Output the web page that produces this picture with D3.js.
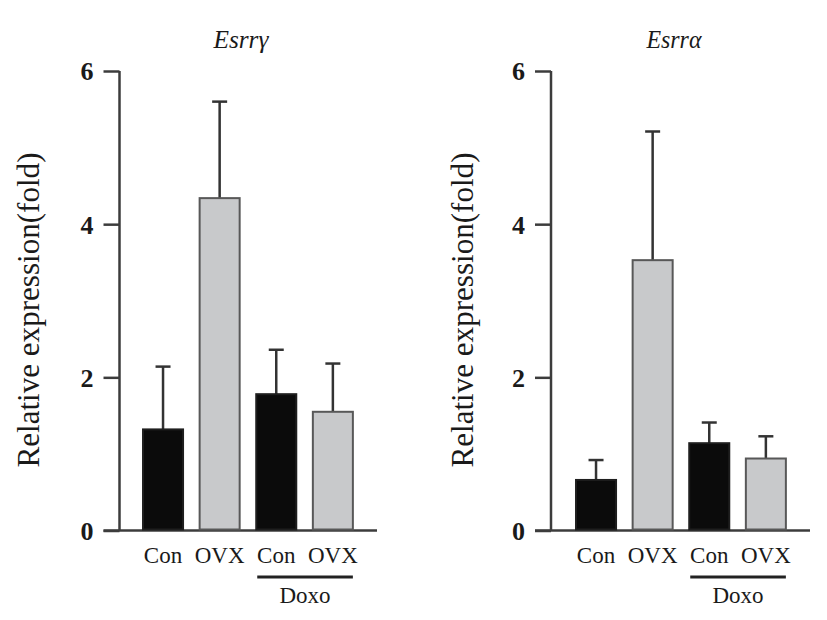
<!DOCTYPE html>
<html>
<head>
<meta charset="utf-8">
<script src="https://cdn.jsdelivr.net/npm/d3@7/dist/d3.min.js"></script>
<style>
  html, body { margin: 0; padding: 0; background: #fff; }
  svg { display: block; }
  text { font-family: "Liberation Serif", "DejaVu Serif", serif; fill: #1a1a1a; }
</style>
</head>
<body>
<svg id="chart" width="827" height="620"></svg>
<script>
// ---- data ----
const categories = ["Con", "OVX", "Con", "OVX"];
const groupLabel = "Doxo";
const yTicks = [0, 2, 4, 6];
const yLabel = "Relative expression(fold)";

const esrrgTitle = "Esrrγ";
const esrrgMeans = [1.32, 4.34, 1.78, 1.55];
const esrrgErrTop = [2.14, 5.60, 2.36, 2.18];

const esrraTitle = "Esrrα";
const esrraMeans = [0.66, 3.53, 1.14, 0.94];
const esrraErrTop = [0.92, 5.21, 1.41, 1.23];

const barFills = ["#0b0b0b", "#c8c9cb", "#0b0b0b", "#c8c9cb"];
const barStrokes = ["#1e1e1e", "#585858", "#1e1e1e", "#585858"];

const panels = [
  { title: esrrgTitle, means: esrrgMeans, errTop: esrrgErrTop,
    axisX: 119.5, xRange: [131.7, 364.2], axisEnd: 377, labelX: 39 },
  { title: esrraTitle, means: esrraMeans, errTop: esrraErrTop,
    axisX: 551, xRange: [564.7, 797.2], axisEnd: 810, labelX: 473 }
];

const svg = d3.select("#chart");
const y = d3.scaleLinear().domain([0, 6]).range([530.5, 71]);
const tickLen = 16;
const axisColor = "#3c3c3c";

panels.forEach(p => {
  const g = svg.append("g");
  const x = d3.scaleBand().domain(d3.range(categories.length))
    .range(p.xRange).paddingInner(0.293).paddingOuter(0.2);
  const bw = x.bandwidth();

  // y axis
  const yAxis = d3.axisLeft(y).tickValues(yTicks).tickSize(tickLen).tickPadding(10).tickFormat(d3.format("d"));
  const ya = g.append("g").attr("transform", `translate(${p.axisX},0)`).call(yAxis);
  ya.select(".domain").attr("stroke", axisColor).attr("stroke-width", 2.5)
    .attr("d", `M0,${y(6)}V${y(0)}`);
  ya.selectAll(".tick line").attr("stroke", axisColor).attr("stroke-width", 2.5);
  ya.selectAll(".tick text")
    .style("font-family", '"Liberation Serif", serif')
    .style("font-weight", "bold").style("font-size", "26px").attr("fill", "#222")
    .attr("dy", "0.34em");

  // x axis baseline
  g.append("line")
    .attr("x1", p.axisX - tickLen).attr("x2", p.axisEnd)
    .attr("y1", y(0)).attr("y2", y(0))
    .attr("stroke", axisColor).attr("stroke-width", 2.5);

  // error bars
  const capW = 15;
  p.means.forEach((m, i) => {
    const cx = x(i) + bw / 2;
    g.append("line").attr("x1", cx).attr("x2", cx)
      .attr("y1", y(m)).attr("y2", y(p.errTop[i]))
      .attr("stroke", "#333").attr("stroke-width", 2.5);
    g.append("line").attr("x1", cx - capW / 2).attr("x2", cx + capW / 2)
      .attr("y1", y(p.errTop[i])).attr("y2", y(p.errTop[i]))
      .attr("stroke", "#333").attr("stroke-width", 2.5);
  });

  // bars
  g.selectAll("rect.bar").data(p.means).join("rect")
    .attr("class", "bar")
    .attr("x", (d, i) => x(i))
    .attr("width", bw)
    .attr("y", d => y(d))
    .attr("height", d => y(0) - y(d) - 1)
    .attr("fill", (d, i) => barFills[i])
    .attr("stroke", (d, i) => barStrokes[i])
    .attr("stroke-width", 2);

  // category labels
  g.selectAll("text.cat").data(categories).join("text")
    .attr("class", "cat")
    .attr("x", (d, i) => x(i) + bw / 2)
    .attr("y", 563)
    .attr("text-anchor", "middle")
    .style("font-size", "23px")
    .text(d => d);

  // Doxo group line
  const gx1 = x(2) + 1, gx2 = x(3) + bw;
  g.append("line").attr("x1", gx1).attr("x2", gx2)
    .attr("y1", 577).attr("y2", 577)
    .attr("stroke", "#222").attr("stroke-width", 3);
  g.append("text").attr("x", (gx1 + gx2) / 2).attr("y", 603)
    .attr("text-anchor", "middle").style("font-size", "23px").text(groupLabel);

  // title
  const midX = (x(0) + x(3) + bw) / 2 - 7;
  g.append("text").attr("x", midX).attr("y", 48)
    .attr("text-anchor", "middle")
    .style("font-style", "italic").style("font-size", "25px")
    .attr("textLength", 55).attr("lengthAdjust", "spacingAndGlyphs")
    .text(p.title);

  // y label
  g.append("text")
    .attr("transform", `translate(${p.labelX},310) rotate(-90)`)
    .attr("text-anchor", "middle")
    .style("font-size", "31px").attr("fill", "#2a2a2a")
    .attr("textLength", 315).attr("lengthAdjust", "spacingAndGlyphs")
    .text(yLabel);
});
</script>
</body>
</html>
